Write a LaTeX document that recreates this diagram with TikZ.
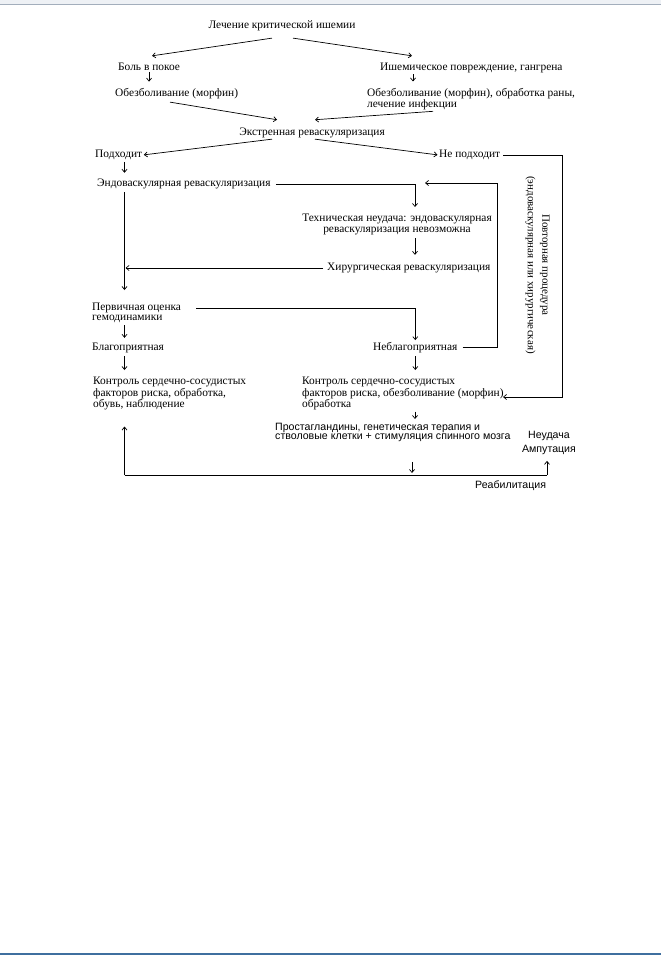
\documentclass[tikz,border=0pt]{standalone}
\usepackage{fontspec}
\setmainfont{Liberation Serif}
\newfontfamily\sansf{Liberation Sans}
\usetikzlibrary{arrows.meta,calc}
\definecolor{topband}{HTML}{EEF1F5}
\definecolor{topline}{HTML}{A3AEBC}
\definecolor{botline}{HTML}{3F6F9F}
\begin{document}
\begin{tikzpicture}[x=1pt,y=-1pt,
  lbl/.style={inner sep=0pt, font=\fontsize{11.4}{10}\selectfont, align=left},
  lblc/.style={lbl, align=center},
  sns/.style={inner sep=0pt, font=\sansf\fontsize{10.6}{9}\selectfont, align=left},
  ln/.style={draw, line width=0.7pt},
  arr/.style={ln, -{Straight Barb[length=3pt,width=5pt]}}]
\useasboundingbox (0,0) rectangle (661,955);
\fill[white] (0,0) rectangle (661,955);
\fill[topband] (0,0) rectangle (661,4);
\draw[topline, line width=1pt] (0,4.5) -- (661,4.5);
\draw[botline, line width=1.5pt] (0,954) -- (661,954);

% helper columns
\coordinate (lx) at (124.5,0);
\coordinate (rx) at (415,0);
\coordinate (dx) at (412,0);
\coordinate (rline) at (562,0);
\coordinate (bx) at (497,0);
\coordinate (loopin) at (425,183);
\coordinate (k2in) at (503,397);
\coordinate (bl) at (124.5,475);
\coordinate (br) at (547,475);

% nodes
\node[lbl, anchor=base] (t0) at (282,28.5) {Лечение критической ишемии};
\node[lbl, anchor=base west] (bol) at (118,70.5) {Боль в покое};
\node[lbl, anchor=base west] (isch) at (380,70.5) {Ишемическое повреждение, гангрена};
\node[lbl, anchor=base west] (obez1) at (115,96.5) {Обезболивание (морфин)};
\node[lbl, anchor=north west] (obez2) at (367,88) {Обезболивание (морфин), обработка раны,\\лечение инфекции};
\node[lbl, anchor=base] (ekstr) at (312,135.5) {Экстренная реваскуляризация};
\node[lbl, anchor=base west] (podh) at (95,157.5) {Подходит};
\node[lbl, anchor=base west] (nepodh) at (439,157.5) {Не подходит};
\node[lbl, anchor=base west] (endo) at (97,186.5) {Эндоваскулярная реваскуляризация};
\node[lblc, anchor=north, font=\fontsize{11.4}{11}\selectfont] (tech) at (397,214) {Техническая неудача: эндоваскулярная\\реваскуляризация невозможна};
\node[lbl, anchor=base west] (hir) at (327,270.5) {Хирургическая реваскуляризация};
\node[lbl, anchor=north west] (perv) at (92,303) {Первичная оценка\\гемодинамики};
\node[lbl, anchor=base west] (blag) at (92,350.5) {Благоприятная};
\node[lbl, anchor=base west] (neblag) at (373,350.5) {Неблагоприятная};
\node[lbl, anchor=north west] (kontr1) at (93,377) {Контроль сердечно-сосудистых\\факторов риска, обработка,\\обувь, наблюдение};
\node[lbl, anchor=north west] (kontr2) at (302,377) {Контроль сердечно-сосудистых\\факторов риска, обезболивание (морфин)\\обработка};
\node[sns, anchor=north west] (prost) at (275,423) {Простагландины, генетическая терапия и\\стволовые клетки + стимуляция спинного мозга};
\node[sns, anchor=north, align=center, font=\sansf\fontsize{10.6}{14}\selectfont] (fail) at (549,431) {Неудача\\Ампутация};
\node[sns, anchor=base west] (reab) at (475,488.5) {Реабилитация};
\node[lblc, rotate=-90, font=\fontsize{11}{14.5}\selectfont] (povt) at (537.5,265) {Повторная процедура\\(эндоваскулярная или хирургическая)};

% connectors
\draw[arr] ([shift={(-10,7)}]t0.south) -- ([shift={(3,-7)}]bol.north);
\draw[arr] ([shift={(11,7)}]t0.south) -- ([shift={(32,-7)}]isch.north west);
\draw[arr, shorten <=1pt, shorten >=6.5pt] (bol.south) -- (bol.south |- obez1.north);
\draw[arr, shorten <=1pt, shorten >=6.5pt] ([xshift=33pt]isch.south west) -- ([xshift=33pt]isch.south west |- obez2.north);
\draw[arr] ([shift={(55,3)}]obez1.south west) -- ([shift={(-35,-8)}]ekstr.north);
\draw[arr] ([shift={(66,1)}]obez2.south west) -- ([shift={(3,-8)}]ekstr.north);
\draw[arr] ([shift={(-40,1)}]ekstr.south) -- ([xshift=1.5pt]podh.east);
\draw[arr] ([shift={(3,1)}]ekstr.south) -- ([xshift=-1.5pt]nepodh.west);
\draw[arr] ([xshift=3pt]nepodh.east) -- (nepodh.east -| rline) |- (k2in);
\draw[arr, shorten <=2pt, shorten >=6pt] (podh.south -| lx) -- (endo.north -| lx);
\draw[arr] ([xshift=5pt]endo.east) -| ([shift={(18,-7)}]tech.north);
\draw[arr, shorten <=3pt, shorten >=8pt] (tech.south -| rx) -- (hir.north -| rx);
\draw[arr, shorten >=1pt] ([xshift=-4pt]hir.west) -- (hir.west -| lx);
\draw[arr, shorten <=3pt, shorten >=13pt] (endo.south -| lx) -- (perv.north -| lx);
\draw[arr, shorten >=2pt] ([shift={(15,5)}]perv.north east) -| (neblag.north);
\draw[arr, shorten <=2pt, shorten >=5pt] (perv.south -| lx) -- (blag.north -| lx);
\draw[arr] ([xshift=5pt]neblag.east) -- (neblag.east -| bx) |- (loopin);
\draw[arr, shorten <=3pt, shorten >=7pt] (blag.south -| lx) -- (kontr1.north -| lx);
\draw[arr, shorten <=3pt, shorten >=7pt] (neblag.south) -- (neblag.south |- kontr2.north);
\draw[arr, shorten <=1pt, shorten >=4pt] (kontr2.south -| rx) -- (prost.north -| rx);
\draw[ln] (bl) -- (br);
\draw[arr, shorten <=20pt, shorten >=2pt] (prost.south -| dx) -- (bl -| dx);
\draw[arr, shorten >=16pt] (bl) -- (bl |- kontr1.south);
\draw[arr, shorten >=6pt] (br) -- (br |- fail.south);
\end{tikzpicture}
\end{document}
